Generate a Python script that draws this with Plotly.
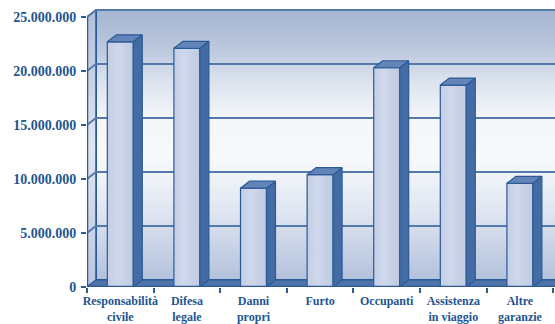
import plotly.graph_objects as go

# ---- data ----
categories = ["Responsabilità<br>civile", "Difesa<br>legale", "Danni<br>propri", "Furto",
              "Occupanti", "Assistenza<br>in viaggio", "Altre<br>garanzie"]
values = [22.7e6, 22.1e6, 9.15e6, 10.4e6, 20.3e6, 18.7e6, 9.6e6]
y_tickvals = [0, 5e6, 10e6, 15e6, 20e6, 25e6]
y_ticktext = ["0", "5.000.000", "10.000.000", "15.000.000", "20.000.000", "25.000.000"]

# ---- 3D geometry (in axis units) ----
DX = 0.135          # depth offset along x (category units)
DY = 0.648e6        # depth offset along y (value units)
HW = 0.195          # half width of bar front face
X0 = -0.5
XEND = 7.3
YMAX = y_tickvals[-1]

DARK = "#2c5a96"
GRID = "#5479ab"

fig = go.Figure()

def poly(xs, ys, **kw):
    fig.add_trace(go.Scatter(x=xs + [xs[0]], y=ys + [ys[0]], mode="lines", fill="toself",
                             hoverinfo="skip", showlegend=False, **kw))

# back wall with vertical gradient
poly([X0 + DX, XEND, XEND, X0 + DX], [DY, DY, YMAX + DY, YMAX + DY],
     line=dict(color=DARK, width=2),
     fillgradient=dict(type="vertical",
                       colorscale=[[0, "#b3c1dc"], [0.25, "#dfe5f1"], [0.45, "#f7f9fc"],
                                   [0.6, "#f4f6fa"], [0.75, "#d9e0ed"], [0.85, "#bcc8de"],
                                   [1, "#a6b5d1"]]))
# left wall
poly([X0, X0, X0 + DX, X0 + DX], [0, YMAX, YMAX + DY, DY],
     line=dict(color=DARK, width=1.5),
     fillgradient=dict(type="vertical",
                       colorscale=[[0, "#b8c6df"], [0.5, "#dfe6f2"], [1, "#b0bfda"]]))
# floor
poly([X0, XEND, XEND, X0 + DX], [0, 0, DY, DY],
     line=dict(color=DARK, width=1), fillcolor="#4e74aa")

# gridlines on walls
gx, gy = [], []
for v in y_tickvals[1:]:
    gx += [X0, X0 + DX, XEND, None]
    gy += [v, v + DY, v + DY, None]
fig.add_trace(go.Scatter(x=gx, y=gy, mode="lines", line=dict(color=GRID, width=1.8),
                         hoverinfo="skip", showlegend=False))

# bars
for i, v in enumerate(values):
    xl, xr = i - HW, i + HW
    # front face
    poly([xl, xr, xr, xl], [0, 0, v, v], line=dict(color=DARK, width=1.2),
         fillgradient=dict(type="horizontal",
                           colorscale=[[0, "#c4cee5"], [0.4, "#cfd8eb"], [1, "#bfcae1"]]))
    # side face
    poly([xr, xr + DX, xr + DX, xr], [0, DY, v + DY, v], line=dict(color=DARK, width=1.2),
         fillcolor="#446ca4")
    # top face
    poly([xl, xr, xr + DX, xl + DX], [v, v, v + DY, v + DY], line=dict(color=DARK, width=1.2),
         fillcolor="#6384b9")

# front axis edges
fig.add_trace(go.Scatter(x=[X0, X0, None, X0, XEND], y=[YMAX, 0, None, 0, 0], mode="lines",
                         line=dict(color=DARK, width=2.5), hoverinfo="skip", showlegend=False))

fig.update_layout(
    width=555, height=324,
    margin=dict(l=87, r=0, t=8, b=37),
    paper_bgcolor="white", plot_bgcolor="white",
    xaxis=dict(range=[-0.5, 6.527], tickvals=list(range(len(categories))), ticktext=categories,
               showgrid=False, zeroline=False, showline=False, ticks="", ticklabelstandoff=5,
               tickfont=dict(family="Liberation Serif", size=12, color="#1f5591", weight="bold"),
               minor=dict(tick0=0.5, dtick=1, ticks="outside", ticklen=5, tickwidth=1.5,
                          tickcolor=DARK, showgrid=False)),
    yaxis=dict(range=[0, YMAX * 279 / 270], tickvals=y_tickvals, ticktext=y_ticktext,
               showgrid=False, zeroline=False, showline=False, ticks="outside", ticklen=5,
               tickwidth=2, tickcolor=DARK, ticklabelstandoff=2,
               tickfont=dict(family="Liberation Serif", size=14, color="#1f5591", weight="bold")),
)

fig.write_html("out.html")
